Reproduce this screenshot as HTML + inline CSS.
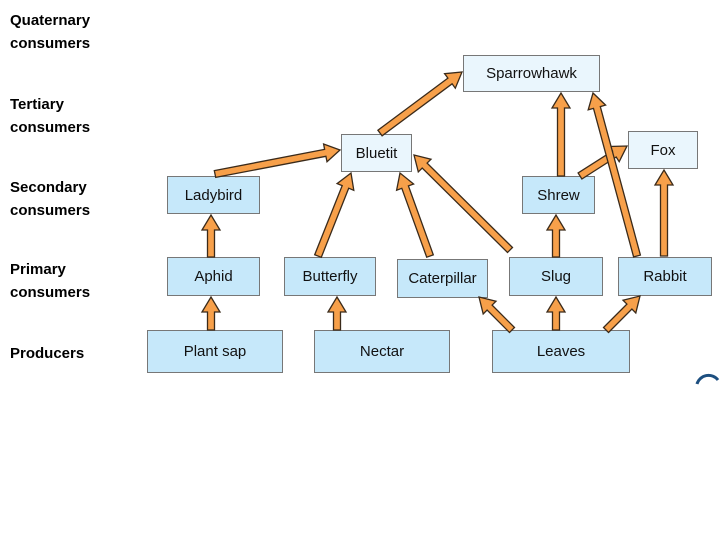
<!DOCTYPE html>
<html><head><meta charset="utf-8"><style>
body{margin:0;width:720px;height:540px;background:#fff;position:relative;overflow:hidden;font-family:"Liberation Sans",sans-serif}
.l{position:absolute;left:10px;font-weight:bold;font-size:15px;line-height:23px;color:#000}
.b{position:absolute;box-sizing:border-box;border:1.5px solid #777;background:#c6e8fa;display:flex;align-items:center;justify-content:center;font-size:15px;color:#111}
.w{background:#eaf6fd}
svg{position:absolute;left:0;top:0}
</style></head><body>
<div class="l" style="top:9px">Quaternary<br>consumers</div>
<div class="l" style="top:93px">Tertiary<br>consumers</div>
<div class="l" style="top:176px">Secondary<br>consumers</div>
<div class="l" style="top:258px">Primary<br>consumers</div>
<div class="l" style="top:342px">Producers</div>

<div class="b w" style="left:463px;top:55px;width:137px;height:37px">Sparrowhawk</div>
<div class="b w" style="left:341px;top:134px;width:71px;height:38px">Bluetit</div>
<div class="b w" style="left:628px;top:131px;width:70px;height:38px">Fox</div>
<div class="b" style="left:167px;top:176px;width:93px;height:38px">Ladybird</div>
<div class="b" style="left:522px;top:176px;width:73px;height:38px">Shrew</div>
<div class="b" style="left:167px;top:257px;width:93px;height:39px">Aphid</div>
<div class="b" style="left:284px;top:257px;width:92px;height:39px">Butterfly</div>
<div class="b" style="left:397px;top:259px;width:91px;height:39px">Caterpillar</div>
<div class="b" style="left:509px;top:257px;width:94px;height:39px">Slug</div>
<div class="b" style="left:618px;top:257px;width:94px;height:39px">Rabbit</div>
<div class="b" style="left:147px;top:330px;width:136px;height:43px">Plant sap</div>
<div class="b" style="left:314px;top:330px;width:136px;height:43px">Nectar</div>
<div class="b" style="left:492px;top:330px;width:138px;height:43px">Leaves</div>

<svg id="s" width="720" height="540" viewBox="0 0 720 540">
<path d="M697 384 A12 12 0 0 1 718 380" fill="none" stroke="#1d4f80" stroke-width="3"/>
</svg>
<script>
var A=[[211,330,211,297],[337,330,337,297],[211,257,211,215],[215,174,340,150],[318,256,351,173],[430,256,400,173],[510,250,414,155],[512,330,479,297],[556,330,556,297],[606,330,640,296],[556,257,556,215],[561,176,561,93],[580,176,627,146],[637,256,593,93],[664,256,664,170],[380,133,462,72]];
var s=document.getElementById('s'),h='';
A.forEach(function(a){var x1=a[0],y1=a[1],x2=a[2],y2=a[3],dx=x2-x1,dy=y2-y1,L=Math.hypot(dx,dy),ux=dx/L,uy=dy/L,px=-uy,py=ux,hl=15,hw=9,sw=3.5;
var bx=x2-ux*hl,by=y2-uy*hl;
var p=[[x1+px*sw,y1+py*sw],[bx+px*sw,by+py*sw],[bx+px*hw,by+py*hw],[x2,y2],[bx-px*hw,by-py*hw],[bx-px*sw,by-py*sw],[x1-px*sw,y1-py*sw]];
h+='<polygon points="'+p.map(function(q){return q[0].toFixed(1)+','+q[1].toFixed(1)}).join(' ')+'" fill="#f7a04a" stroke="#3a2a1a" stroke-width="1.3" stroke-linejoin="miter"/>';});
s.innerHTML+=h;
</script>
</body></html>
